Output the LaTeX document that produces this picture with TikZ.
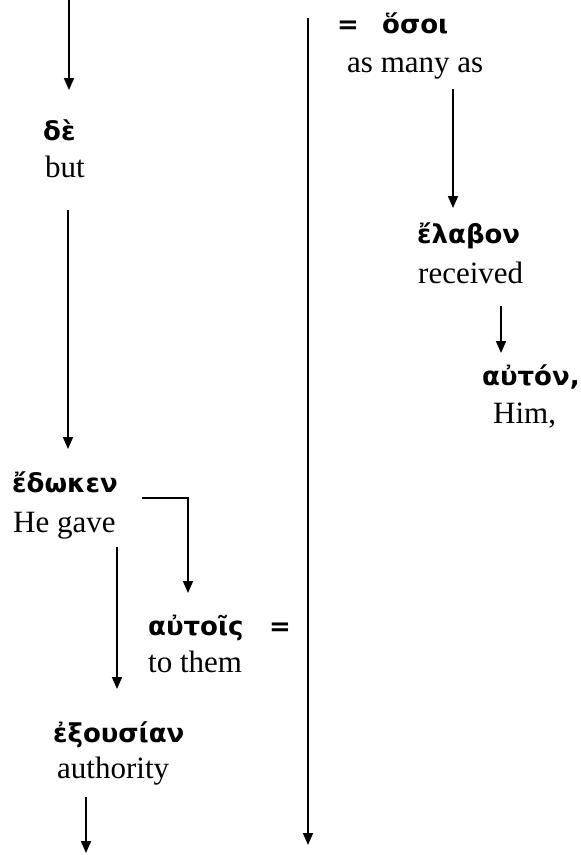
\documentclass[tikz,border=0pt]{standalone}
\usepackage{fontspec}
\setmainfont{Liberation Serif}
\newfontfamily\gk{DejaVu Sans}
\usetikzlibrary{arrows.meta}
\tikzset{
  gr/.style={anchor=base west, inner sep=0pt, font=\gk\bfseries\fontsize{26}{26}\selectfont},
  en/.style={anchor=base west, inner sep=0pt, font=\fontsize{31}{31}\selectfont},
  arr/.style={line width=1.7pt, -{Triangle[width=10pt,length=12pt]}},
}
\begin{document}
\begin{tikzpicture}[x=1pt,y=-1pt]
\useasboundingbox (0,0) rectangle (581,855);
% text nodes
\node[gr] (de) at (43,140) {δὲ};
\node[en] (but) at (45,177) {but};
\node[gr] (edoken) at (12,492) {ἔδωκεν};
\node[en] (hegave) at (13,532) {He gave};
\node[gr] (autois) at (148,635) {αὐτοῖς};
\node[gr] (eqb) at (269,635) {=};
\node[en] (tothem) at (148,672) {to them};
\node[gr] (exousian) at (53,742) {ἐξουσίαν};
\node[en] (authority) at (57,778) {authority};
\node[gr] (eqa) at (337,33) {=};
\node[gr] (hosoi) at (382,33) {ὅσοι};
\node[en] (asmany) at (347,72) {as many as};
\node[gr] (elabon) at (417,243) {ἔλαβον};
\node[en] (received) at (418,283) {received};
\node[gr] (auton) at (482,385) {αὐτόν,};
\node[en] (him) at (493,423) {Him,};
% connector ends
\coordinate (topin) at (69,0);
\coordinate (dein) at (69,90);
\coordinate (butout) at (68,210);
\coordinate (edokenin) at (68,449);
\coordinate (edokenout) at (142,498);
\coordinate (autoisin) at (188,593);
\coordinate (hegaveout) at (117,547);
\coordinate (exousianin) at (117,689);
\coordinate (authout) at (86,797);
\coordinate (authend) at (86,853);
\coordinate (relin) at (308,18);
\coordinate (relend) at (308,845);
\coordinate (asmanyout) at (453,89);
\coordinate (elabonin) at (453,208);
\coordinate (receivedout) at (501,306);
\coordinate (autonin) at (501,353);
% connectors
\draw[arr] (topin) -- (dein);
\draw[arr] (butout) -- (edokenin);
\draw[arr] (edokenout) -| (autoisin);
\draw[arr] (hegaveout) -- (exousianin);
\draw[arr] (authout) -- (authend);
\draw[arr] (relin) -- (relend);
\draw[arr] (asmanyout) -- (elabonin);
\draw[arr] (receivedout) -- (autonin);
\end{tikzpicture}
\end{document}
